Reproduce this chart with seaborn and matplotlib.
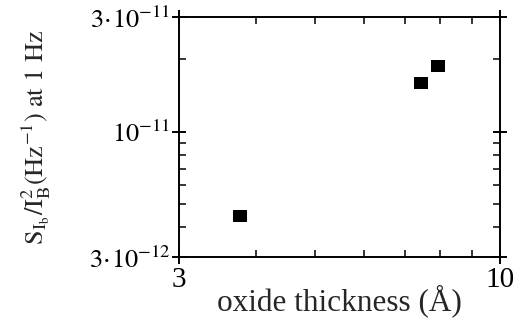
import matplotlib
matplotlib.use("Agg")
import matplotlib.pyplot as plt
import matplotlib.ticker as mticker
from matplotlib.path import Path
import seaborn as sns
import pandas as pd

thickness = [3.77, 7.44, 7.94]
noise = [4.45e-12, 1.59e-11, 1.88e-11]

y_major = [3e-12, 1e-11, 3e-11]
y_major_labels = [r"$3\!\cdot\!10^{-12}$", r"$10^{-11}$", r"$3\!\cdot\!10^{-11}$"]
y_minor = [4e-12, 5e-12, 6e-12, 7e-12, 8e-12, 9e-12, 2e-11]
x_major = [3, 10]
x_major_labels = ["3", "10"]
x_minor = [4, 5, 6, 7, 8, 9]

sns.set_theme(style="ticks")
plt.rcParams["font.family"] = ["Liberation Serif", "DejaVu Serif"]
plt.rcParams["mathtext.fontset"] = "stix"

df = pd.DataFrame({"x": thickness, "y": noise})

fig = plt.figure(figsize=(5.23, 3.29), dpi=100)
ax = fig.add_axes([0.342, 0.219, 0.614, 0.729])

rect = Path([(-1.2, -1), (1.2, -1), (1.2, 1), (-1.2, 1), (-1.2, -1)],
            [Path.MOVETO, Path.LINETO, Path.LINETO, Path.LINETO, Path.CLOSEPOLY])
sns.scatterplot(data=df, x="x", y="y", ax=ax, marker=rect, s=110,
                color="black", edgecolor="black", linewidth=0, legend=False)

ax.set_xscale("log")
ax.set_yscale("log")
ax.set_xlim(3, 10)
ax.set_ylim(3e-12, 3e-11)

ax.xaxis.set_major_locator(mticker.FixedLocator(x_major))
ax.xaxis.set_major_formatter(mticker.FixedFormatter(x_major_labels))
ax.xaxis.set_minor_locator(mticker.FixedLocator(x_minor))
ax.xaxis.set_minor_formatter(mticker.NullFormatter())
ax.yaxis.set_major_locator(mticker.FixedLocator(y_major))
ax.yaxis.set_major_formatter(mticker.FixedFormatter(y_major_labels))
ax.yaxis.set_minor_locator(mticker.FixedLocator(y_minor))
ax.yaxis.set_minor_formatter(mticker.NullFormatter())

for s in ax.spines.values():
    s.set_linewidth(1.4)
    s.set_color("black")

ax.tick_params(which="major", direction="inout", length=10, width=1.4,
               top=True, right=True, colors="black")
ax.tick_params(which="minor", direction="in", length=5, width=1.1,
               top=True, right=True, colors="black")
ax.tick_params(axis="x", which="major", labelsize=21, pad=2)
ax.tick_params(axis="y", which="major", labelsize=19, pad=1)

ax.set_xlabel("oxide thickness (Å)", fontsize=22.5, labelpad=-6)
ax.set_ylabel(r"$\mathrm{S_{I_b}/I_B^2(Hz^{-1})\ at\ 1\ Hz}$", fontsize=19, labelpad=26)

fig.savefig("out.png", dpi=100, facecolor="white")
